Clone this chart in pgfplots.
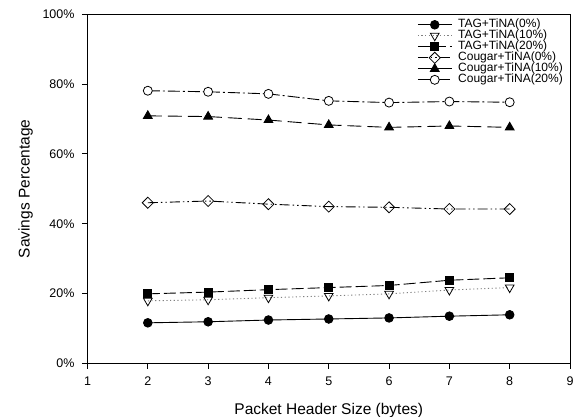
\documentclass[border=0pt]{standalone}
\usepackage{pgfplots}
\pgfplotsset{compat=1.18}
\usepackage{fontspec}
\setmainfont{Liberation Sans}
\begin{document}
\begin{tikzpicture}
\useasboundingbox (0,0) rectangle (573bp,417bp);
\begin{axis}[
  at={(87.5bp,53.7bp)}, anchor=south west,
  scale only axis, width=482.5bp, height=349bp,
  xmin=1, xmax=9, ymin=0, ymax=100,
  xtick={1,2,3,4,5,6,7,8,9}, ytick={0,20,40,60,80,100},
  xticklabels={1,2,3,4,5,6,7,8,9},
  yticklabels={0\%,20\%,40\%,60\%,80\%,100\%},
  tick align=outside, xtick pos=bottom, ytick pos=left, major tick length=5.5bp,
  axis line style={line width=0.8bp},
  tick style={line width=0.8bp, black},
  ticklabel style={font=\fontsize{12.5bp}{15bp}\selectfont},
  xticklabel style={yshift=-4.5bp},
  yticklabel style={xshift=-4bp},
  xlabel={Packet Header Size (bytes)},
  ylabel={Savings Percentage},
  label style={font=\fontsize{15.5bp}{18bp}\selectfont},
  xlabel style={at={(axis description cs:0.5,0)}, anchor=base, yshift=-51.5bp},
  ylabel style={at={(axis description cs:0,0.5)}, anchor=center, yshift=61.8bp},
  legend style={draw=none, fill=none, at={(axis description cs:1,1)}, anchor=north east,
    xshift=-7bp, yshift=-4.8bp, inner sep=0pt, row sep=0pt, column sep=6bp,
    font=\fontsize{12bp}{13bp}\selectfont,
    nodes={inner sep=0pt, text height=8.5bp, text depth=2.5bp}},
  legend cell align=left,
  legend image code/.code={\draw[mark repeat=2, mark phase=2, #1] plot coordinates {(0bp,0bp) (17bp,0bp) (34bp,0bp)};},
  every axis plot/.append style={line width=0.9bp, black},
]
\addplot[solid, mark=*, mark size=4.3bp, mark options={solid}] coordinates {
(2,11.6) (3,11.9) (4,12.4) (5,12.7) (6,13.0) (7,13.5) (8,13.9)};
\addlegendentry{TAG+TiNA(0\%)}
\addplot[gray, dash pattern=on 1.2bp off 2.5bp, mark=triangle, mark size=5bp,
  mark options={solid, fill=white, draw=black, rotate=180, line width=0.8bp}] coordinates {
(2,17.9) (3,18.2) (4,18.8) (5,19.3) (6,19.9) (7,21.0) (8,21.7)};
\addlegendentry{TAG+TiNA(10\%)}
\addplot[dash pattern=on 12bp off 4bp, mark=square*, mark size=4bp, mark options={solid}] coordinates {
(2,19.9) (3,20.4) (4,21.1) (5,21.7) (6,22.3) (7,23.8) (8,24.5)};
\addlegendentry{TAG+TiNA(20\%)}
\addplot[dash pattern=on 10bp off 3bp on 1.5bp off 3bp on 1.5bp off 3bp, mark=square, mark size=3.9bp,
  mark options={solid, rotate=45, fill=white, line width=0.8bp}] coordinates {
(2,46.0) (3,46.5) (4,45.6) (5,44.9) (6,44.7) (7,44.2) (8,44.2)};
\addlegendentry{Cougar+TiNA(0\%)}
\addplot[dash pattern=on 14bp off 6bp, mark=triangle*, mark size=5bp, mark options={solid}] coordinates {
(2,70.9) (3,70.7) (4,69.7) (5,68.3) (6,67.6) (7,68.0) (8,67.6)};
\addlegendentry{Cougar+TiNA(10\%)}
\addplot[dash pattern=on 12bp off 3bp on 2bp off 3bp, mark=*, mark size=4.5bp,
  mark options={solid, fill=white, line width=0.8bp}] coordinates {
(2,78.1) (3,77.8) (4,77.2) (5,75.2) (6,74.7) (7,75.0) (8,74.8)};
\addlegendentry{Cougar+TiNA(20\%)}
\end{axis}
\end{tikzpicture}
\end{document}
